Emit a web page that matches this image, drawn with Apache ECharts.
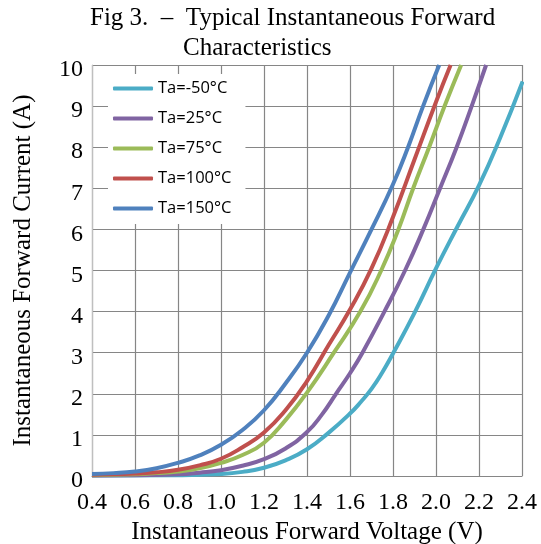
<!DOCTYPE html>
<html>
<head>
<meta charset="utf-8">
<script src="https://cdn.jsdelivr.net/npm/echarts@6/dist/echarts.min.js"></script>
<style>
html,body{margin:0;padding:0;background:#fff;}
#chart{width:541px;height:544px;}
</style>
</head>
<body>
<div id="chart"></div>
<script>
const seriesNames = ['Ta=-50°C', 'Ta=25°C', 'Ta=75°C', 'Ta=100°C', 'Ta=150°C'];
const seriesColors = ['#4BACC6', '#8064A2', '#9BBB59', '#C0504D', '#4F81BD'];
const xTicks = [0.4, 0.6, 0.8, 1.0, 1.2, 1.4, 1.6, 1.8, 2.0, 2.2, 2.4];
const yTicks = [0, 1, 2, 3, 4, 5, 6, 7, 8, 9, 10];

const vM50 = [0.4, 0.8, 1.0, 1.1, 1.2, 1.3, 1.4, 1.5, 1.6, 1.65, 1.7, 1.75, 1.8, 1.9, 2.0, 2.1, 2.2, 2.3, 2.403];
const iM50 = [0.01, 0.02, 0.05, 0.1, 0.2, 0.38, 0.65, 1.05, 1.52, 1.8, 2.12, 2.52, 2.98, 3.97, 5.05, 6.07, 7.07, 8.25, 9.6];

const v25 = [0.4, 0.6, 0.8, 0.9, 1.0, 1.1, 1.2, 1.3, 1.4, 1.47, 1.535, 1.6, 1.658, 1.76, 1.856, 1.941, 2.019, 2.096, 2.166, 2.233];
const i25 = [0.01, 0.02, 0.04, 0.08, 0.14, 0.25, 0.41, 0.67, 1.07, 1.5, 2.0, 2.5, 3.0, 4.0, 5, 6, 7, 8, 9, 10];

const v75 = [0.4, 0.6, 0.7, 0.8, 0.9, 1.0, 1.1, 1.2, 1.3, 1.4, 1.525, 1.648, 1.745, 1.825, 1.894, 1.968, 2.04, 2.117];
const i75 = [0.02, 0.04, 0.07, 0.11, 0.19, 0.32, 0.51, 0.81, 1.36, 2.03, 3.0, 4.0, 5, 6, 7, 8, 9, 10];

const v100 = [0.4, 0.5, 0.6, 0.7, 0.8, 0.9, 1.0, 1.1, 1.2, 1.3, 1.4, 1.5, 1.6, 1.7, 1.8, 1.9, 2.0, 2.068];
const i100 = [0.03, 0.04, 0.06, 0.09, 0.15, 0.26, 0.42, 0.7, 1.06, 1.6, 2.31, 3.18, 4.05, 5.05, 6.3, 7.7, 9.1, 10];

const v150 = [0.4, 0.5, 0.6, 0.7, 0.8, 0.9, 1.0, 1.1, 1.2, 1.3, 1.4, 1.5, 1.6, 1.7, 1.8, 1.87, 1.94, 2.015];
const i150 = [0.05, 0.07, 0.11, 0.19, 0.32, 0.5, 0.76, 1.12, 1.6, 2.25, 3.0, 3.9, 4.95, 6.0, 7.1, 8.0, 9.0, 10];

const voltages = [vM50, v25, v75, v100, v150];
const currents = [iM50, i25, i75, i100, i150];

function pairs(xs, ys) { return xs.map((x, k) => [x, ys[k]]); }

const serif = 'Liberation Serif, Times New Roman, serif';
const gridColor = '#868686';

const chart = echarts.init(document.getElementById('chart'), null, {renderer: 'canvas'});
chart.setOption({
  animation: false,
  backgroundColor: '#fff',
  title: [
    {text: 'Fig 3.  –  Typical Instantaneous Forward', left: 90, top: 6, padding: 0,
     textStyle: {fontFamily: serif, fontWeight: 'normal', fontSize: 25, color: '#000'}},
    {text: 'Characteristics', left: 183, top: 36, padding: 0,
     textStyle: {fontFamily: serif, fontWeight: 'normal', fontSize: 25, color: '#000'}}
  ],
  grid: {left: 92, right: 19, top: 65, bottom: 68, containLabel: false, outerBoundsMode: 'none'},
  legend: {
    orient: 'vertical', left: 108, top: 74,
    padding: [6, 14, 7, 5],
    backgroundColor: '#fff',
    itemWidth: 40, itemHeight: 4, itemGap: 13,
    icon: 'roundRect',
    data: seriesNames,
    textStyle: {fontFamily: 'Open Sans', fontSize: 16.5, color: '#000', lineHeight: 16}
  },
  xAxis: {
    type: 'value', min: xTicks[0], max: xTicks[xTicks.length - 1], interval: 0.2,
    name: 'Instantaneous Forward Voltage (V)', nameLocation: 'middle', nameGap: 32,
    nameTextStyle: {fontFamily: serif, fontSize: 25, color: '#000'},
    axisLine: {show: true, lineStyle: {color: gridColor, width: 1.2}},
    axisTick: {show: false},
    splitLine: {show: true, lineStyle: {color: gridColor, width: 1.2}},
    axisLabel: {fontFamily: serif, fontSize: 24, color: '#000', margin: 15,
      formatter: v => v.toFixed(1)}
  },
  yAxis: {
    type: 'value', min: yTicks[0], max: yTicks[yTicks.length - 1], interval: 1,
    name: 'Instantaneous Forward Current (A)', nameLocation: 'middle', nameGap: 56,
    nameTextStyle: {fontFamily: serif, fontSize: 25, color: '#000'},
    axisLine: {show: true, lineStyle: {color: '#bfbfbf', width: 1.2}},
    axisTick: {show: false},
    splitLine: {show: true, lineStyle: {color: gridColor, width: 1.2}},
    axisLabel: {fontFamily: serif, fontSize: 24, color: '#000', margin: 9,
      verticalAlign: 'top', lineHeight: 10}
  },
  series: seriesNames.map((n, k) => ({
    name: n, type: 'line', smooth: 0.5, showSymbol: false, symbol: 'none',
    clip: true,
    data: pairs(voltages[k], currents[k]),
    lineStyle: {color: seriesColors[k], width: 4},
    itemStyle: {color: seriesColors[k]}
  }))
});
</script>
</body>
</html>
